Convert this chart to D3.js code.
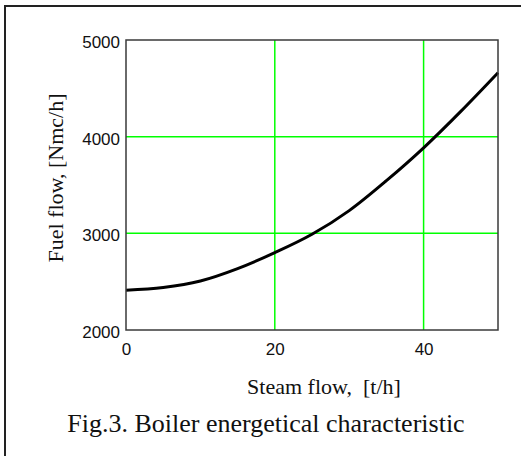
<!DOCTYPE html>
<html>
<head>
<meta charset="utf-8">
<script src="https://cdn.jsdelivr.net/npm/d3@7"></script>
<style>
  html, body { margin: 0; padding: 0; background: #fff; }
  svg { display: block; }
</style>
</head>
<body>
<div id="chart"></div>
<script>
'use strict';

// values
const steamFlow = [0, 5, 10, 15, 20, 25, 30, 35, 40, 45, 50];
const fuelFlow = [2412, 2440, 2507, 2635, 2800, 2990, 3235, 3545, 3885, 4262, 4662];
const xTicks = [0, 20, 40];
const yTicks = [2000, 3000, 4000, 5000];

const xTitle = 'Steam flow,  [t/h]';
const yTitle = 'Fuel flow, [Nmc/h]';
const caption = 'Fig.3. Boiler energetical characteristic';

const width = 521;
const height = 456;
const plot = { left: 126, top: 40, right: 498, bottom: 330 };

const x = d3.scaleLinear([0, 50], [plot.left, plot.right]);
const y = d3.scaleLinear([2000, 5000], [plot.bottom, plot.top]);

const svg = d3.select('#chart')
  .append('svg')
  .attr('width', width)
  .attr('height', height)
  .attr('viewBox', [0, 0, width, height]);

// outer frame (only left and top edges show in the crop)
svg.append('path')
  .attr('d', `M5,${height} V6 H${width}`)
  .attr('fill', 'none')
  .attr('stroke', '#222')
  .attr('stroke-width', 2);

// green grid at interior ticks
const grid = svg.append('g')
  .attr('stroke', '#00ff00')
  .attr('stroke-width', 1.5);

grid.selectAll('line.vx')
  .data(xTicks.filter((d) => d > 0 && d < 50))
  .join('line')
  .attr('class', 'vx')
  .attr('x1', (d) => x(d))
  .attr('x2', (d) => x(d))
  .attr('y1', plot.top)
  .attr('y2', plot.bottom);

grid.selectAll('line.hy')
  .data(yTicks.filter((d) => d > 2000 && d < 5000))
  .join('line')
  .attr('class', 'hy')
  .attr('x1', plot.left)
  .attr('x2', plot.right)
  .attr('y1', (d) => y(d))
  .attr('y2', (d) => y(d));

// curve
const line = d3.line()
  .x((d) => x(d[0]))
  .y((d) => y(d[1]))
  .curve(d3.curveMonotoneX);

svg.append('path')
  .datum(d3.zip(steamFlow, fuelFlow))
  .attr('d', line)
  .attr('fill', 'none')
  .attr('stroke', '#000')
  .attr('stroke-width', 3)
  .attr('stroke-linejoin', 'round');

// plot box
svg.append('rect')
  .attr('x', plot.left)
  .attr('y', plot.top)
  .attr('width', plot.right - plot.left)
  .attr('height', plot.bottom - plot.top)
  .attr('fill', 'none')
  .attr('stroke', '#3a3a3a')
  .attr('stroke-width', 1.5);

// axes (labels only, Mathcad style)
const tickFont = '"Liberation Sans Narrow", "Liberation Sans", Arial, sans-serif';

const xAxis = d3.axisBottom(x)
  .tickValues(xTicks)
  .tickFormat(d3.format('d'))
  .tickSize(0)
  .tickPadding(13);

svg.append('g')
  .attr('transform', `translate(0,${plot.bottom})`)
  .call(xAxis)
  .call((g) => g.select('.domain').remove())
  .call((g) => g.selectAll('text')
    .attr('fill', '#111')
    .style('font-family', tickFont)
    .style('font-size', '17px'));

const yAxis = d3.axisLeft(y)
  .tickValues(yTicks)
  .tickFormat(d3.format('d'))
  .tickSize(0)
  .tickPadding(6);

svg.append('g')
  .attr('transform', `translate(${plot.left},0)`)
  .call(yAxis)
  .call((g) => g.select('.domain').remove())
  .call((g) => g.selectAll('text')
    .attr('dy', '0.45em')
    .attr('fill', '#111')
    .style('font-family', tickFont)
    .style('font-size', '17px'));

const serif = '"Liberation Serif", "Times New Roman", serif';

svg.append('text')
  .attr('x', 324)
  .attr('y', 394)
  .attr('text-anchor', 'middle')
  .style('white-space', 'pre')
  .style('font-family', serif)
  .style('font-size', '22px')
  .attr('fill', '#111')
  .text(xTitle);

svg.append('text')
  .attr('transform', `translate(63,${(plot.top + plot.bottom) / 2 - 7}) rotate(-90)`)
  .attr('text-anchor', 'middle')
  .style('font-family', serif)
  .style('font-size', '22px')
  .attr('fill', '#111')
  .text(yTitle);

svg.append('text')
  .attr('x', 266)
  .attr('y', 432)
  .attr('text-anchor', 'middle')
  .style('font-family', serif)
  .style('font-size', '26px')
  .attr('fill', '#111')
  .text(caption);
</script>
</body>
</html>
